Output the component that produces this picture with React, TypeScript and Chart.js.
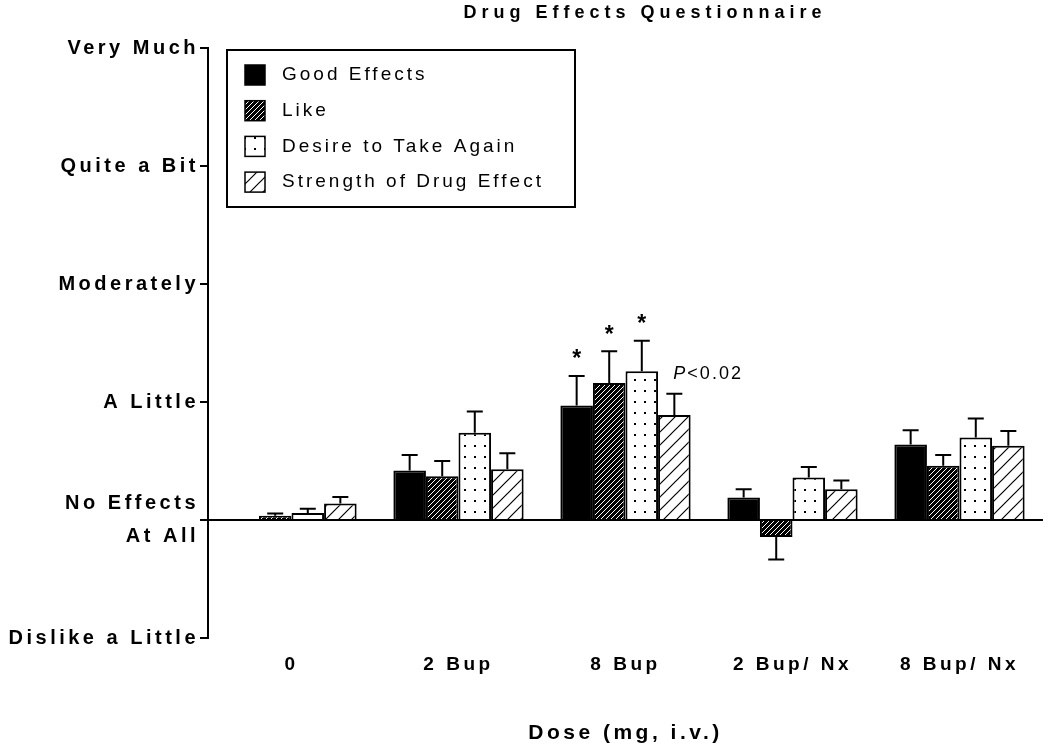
import React, { useEffect, useRef } from 'react';
import { Chart, registerables } from 'chart.js';

Chart.register(...registerables);

const categories = ['0', '2 Bup', '8 Bup', '2 Bup/ Nx', '8 Bup/ Nx'];
const seriesNames = ['Good Effects', 'Like', 'Desire to Take Again', 'Strength of Drug Effect'];

const goodValues = [0, 0.42, 0.97, 0.19, 0.64];
const goodErr = [0, 0.13, 0.25, 0.07, 0.12];
const likeValues = [0.035, 0.37, 1.16, -0.145, 0.46];
const likeErr = [0.02, 0.13, 0.27, 0.19, 0.09];
const desireValues = [0.06, 0.74, 1.26, 0.36, 0.7];
const desireErr = [0.035, 0.18, 0.26, 0.09, 0.16];
const strengthValues = [0.14, 0.43, 0.89, 0.26, 0.63];
const strengthErr = [0.055, 0.135, 0.18, 0.075, 0.125];

const yTickValues = [-1, 0, 1, 2, 3, 4];
const yTickLabels: (string | string[])[] = [
  'Dislike a Little',
  ['No Effects', 'At All'],
  'A Little',
  'Moderately',
  'Quite a Bit',
  'Very Much',
];

const goodMarks = ['', '', '*', '', ''];
const likeMarks = ['', '', '*', '', ''];
const desireMarks = ['', '', '*', '', ''];
const strengthMarks = ['', '', 'P<0.02', '', ''];

const chartTitle = 'Drug Effects Questionnaire';
const xTitle = 'Dose (mg, i.v.)';

const FONT = '"Liberation Sans", Arial, Helvetica, sans-serif';

function makePattern(kind: string): CanvasPattern | string {
  const c = document.createElement('canvas');
  if (kind === 'like') {
    c.width = 5;
    c.height = 5;
    const g = c.getContext('2d')!;
    g.fillStyle = '#000';
    g.fillRect(0, 0, 5, 5);
    g.strokeStyle = '#fff';
    g.lineWidth = 1.0;
    g.beginPath();
    g.moveTo(0, 5);
    g.lineTo(5, 0);
    g.moveTo(-1, 1);
    g.lineTo(1, -1);
    g.moveTo(4, 6);
    g.lineTo(6, 4);
    g.stroke();
  } else if (kind === 'desire') {
    c.width = 10;
    c.height = 11;
    const g = c.getContext('2d')!;
    g.fillStyle = '#fff';
    g.fillRect(0, 0, 10, 11);
    g.fillStyle = '#000';
    g.fillRect(4, 5, 2, 2);
  } else if (kind === 'strength') {
    c.width = 13;
    c.height = 13;
    const g = c.getContext('2d')!;
    g.fillStyle = '#fff';
    g.fillRect(0, 0, 13, 13);
    g.strokeStyle = '#000';
    g.lineWidth = 1.2;
    g.beginPath();
    g.moveTo(0, 13);
    g.lineTo(13, 0);
    g.moveTo(-1, 1);
    g.lineTo(1, -1);
    g.moveTo(12, 14);
    g.lineTo(14, 12);
    g.stroke();
  } else {
    return '#000';
  }
  const ctx = document.createElement('canvas').getContext('2d')!;
  return ctx.createPattern(c, 'repeat') as CanvasPattern;
}

const spacingPlugin = {
  id: 'spacing',
  beforeLayout(chart: any) {
    chart.ctx.letterSpacing = '3.5px';
  },
  beforeDraw(chart: any) {
    chart.ctx.letterSpacing = '3.5px';
  },
};

function errTopPixel(chart: any, i: number, j: number) {
  const ds = chart.data.datasets[i];
  const v = ds.data[j];
  const e = ds.errors[j] || 0;
  return chart.scales.y.getPixelForValue(v >= 0 ? v + e : v - e);
}

const errorBarPlugin = {
  id: 'errorBars',
  afterDatasetsDraw(chart: any) {
    const ctx = chart.ctx;
    ctx.save();
    ctx.strokeStyle = '#000';
    ctx.lineWidth = 2;
    chart.data.datasets.forEach((ds: any, i: number) => {
      const meta = chart.getDatasetMeta(i);
      meta.data.forEach((bar: any, j: number) => {
        const e = ds.errors[j];
        if (!e) return;
        const end = errTopPixel(chart, i, j);
        ctx.beginPath();
        ctx.moveTo(bar.x, bar.y);
        ctx.lineTo(bar.x, end);
        ctx.moveTo(bar.x - 8, end);
        ctx.lineTo(bar.x + 8, end);
        ctx.stroke();
      });
    });
    ctx.restore();
  },
};

const marksPlugin = {
  id: 'marks',
  afterDatasetsDraw(chart: any) {
    const ctx = chart.ctx;
    chart.data.datasets.forEach((ds: any, i: number) => {
      const meta = chart.getDatasetMeta(i);
      meta.data.forEach((bar: any, j: number) => {
        const m = ds.marks[j];
        if (!m) return;
        const top = errTopPixel(chart, i, j);
        ctx.save();
        ctx.fillStyle = '#000';
        ctx.textBaseline = 'middle';
        if (m === '*') {
          ctx.letterSpacing = '0px';
          ctx.font = 'bold 23px ' + FONT;
          ctx.textAlign = 'center';
          ctx.fillText('*', bar.x, top - 16);
        } else {
          ctx.letterSpacing = '2px';
          ctx.textAlign = 'left';
          const x0 = bar.x - 1;
          const y0 = top - 20;
          ctx.font = 'italic 18px ' + FONT;
          ctx.fillText(m.charAt(0), x0, y0);
          const w = ctx.measureText(m.charAt(0)).width;
          ctx.font = '18px ' + FONT;
          ctx.fillText(m.slice(1), x0 + w, y0);
        }
        ctx.restore();
      });
    });
  },
};

const titlePlugin = {
  id: 'customTitle',
  afterDraw(chart: any) {
    const ctx = chart.ctx;
    ctx.save();
    ctx.letterSpacing = '5px';
    ctx.font = 'bold 18px ' + FONT;
    ctx.fillStyle = '#000';
    ctx.textAlign = 'center';
    ctx.textBaseline = 'middle';
    ctx.fillText(chartTitle, chart.chartArea.left + 437, 13);
    ctx.restore();
  },
};

const legendPlugin = {
  id: 'customLegend',
  afterDraw(chart: any) {
    const ctx = chart.ctx;
    const ca = chart.chartArea;
    const bx = ca.left + 19;
    const by = ca.top + 2;
    const bw = 348;
    const bh = 157;
    ctx.save();
    ctx.fillStyle = '#fff';
    ctx.fillRect(bx, by, bw, bh);
    ctx.strokeStyle = '#000';
    ctx.lineWidth = 2;
    ctx.strokeRect(bx, by, bw, bh);
    ctx.letterSpacing = '3px';
    ctx.font = '19px ' + FONT;
    ctx.textAlign = 'left';
    ctx.textBaseline = 'middle';
    chart.data.datasets.forEach((ds: any, i: number) => {
      const cy = by + 25 + i * 35.7;
      ctx.fillStyle = ds.backgroundColor;
      ctx.fillRect(bx + 18, cy - 10, 20, 20);
      ctx.lineWidth = 1.5;
      ctx.strokeStyle = '#000';
      ctx.strokeRect(bx + 18, cy - 10, 20, 20);
      ctx.fillStyle = '#000';
      ctx.fillText(ds.label, bx + 55, cy);
    });
    ctx.restore();
  },
};

export default function App() {
  const canvasRef = useRef<HTMLCanvasElement | null>(null);

  useEffect(() => {
    const canvas = canvasRef.current;
    if (!canvas) return;
    const fills = [makePattern('good'), makePattern('like'), makePattern('desire'), makePattern('strength')];
    const values = [goodValues, likeValues, desireValues, strengthValues];
    const errors = [goodErr, likeErr, desireErr, strengthErr];
    const marks = [goodMarks, likeMarks, desireMarks, strengthMarks];

    const chart = new Chart(canvas, {
      type: 'bar',
      data: {
        labels: categories,
        datasets: seriesNames.map((name, i) => ({
          label: name,
          data: values[i],
          errors: errors[i],
          marks: marks[i],
          backgroundColor: fills[i],
          borderColor: '#000',
          borderWidth: 2,
          categoryPercentage: 0.78,
          barPercentage: 1.0,
        })) as any,
      },
      options: {
        animation: false,
        responsive: false,
        maintainAspectRatio: false,
        layout: { padding: { left: 0, right: 7, top: 48, bottom: 0 } },
        plugins: {
          legend: { display: false },
          title: { display: false },
          tooltip: { enabled: false },
        },
        scales: {
          x: {
            grid: { display: false, drawTicks: false },
            border: { display: false },
            ticks: {
              color: '#000',
              font: { family: FONT, size: 19, weight: 'bold' },
              padding: 15,
              maxRotation: 0,
            },
            title: {
              display: true,
              text: xTitle,
              color: '#000',
              font: { family: FONT, size: 21, weight: 'bold' },
              padding: { top: 0, bottom: 2 },
            },
            afterFit(scale: any) {
              scale.height = 110;
            },
          },
          y: {
            min: -1,
            max: 4,
            afterBuildTicks(scale: any) {
              scale.ticks = yTickValues.map((v) => ({ value: v }));
            },
            grid: {
              color: (c: any) => (c.tick && c.tick.value === 0 ? '#000' : 'rgba(0,0,0,0)'),
              lineWidth: 2,
              tickColor: '#000',
              tickLength: 8,
              tickWidth: 2,
            },
            border: { display: true, color: '#000', width: 2 },
            ticks: {
              color: '#000',
              padding: 1,
              font: { family: FONT, size: 20, weight: 'bold', lineHeight: 1.65 },
              callback: (v: any) => {
                const idx = yTickValues.indexOf(Number(v));
                return idx >= 0 ? (yTickLabels[idx] as any) : '';
              },
            },
            afterFit(scale: any) {
              scale.width = 208;
            },
          },
        },
      } as any,
      plugins: [spacingPlugin, errorBarPlugin, marksPlugin, titlePlugin, legendPlugin],
    });
    return () => chart.destroy();
  }, []);

  return (
    <div style={{ position: 'absolute', left: 0, top: 0, width: 1050, height: 748, background: '#fff' }}>
      <canvas ref={canvasRef} width={1050} height={748} style={{ display: 'block' }} />
    </div>
  );
}
